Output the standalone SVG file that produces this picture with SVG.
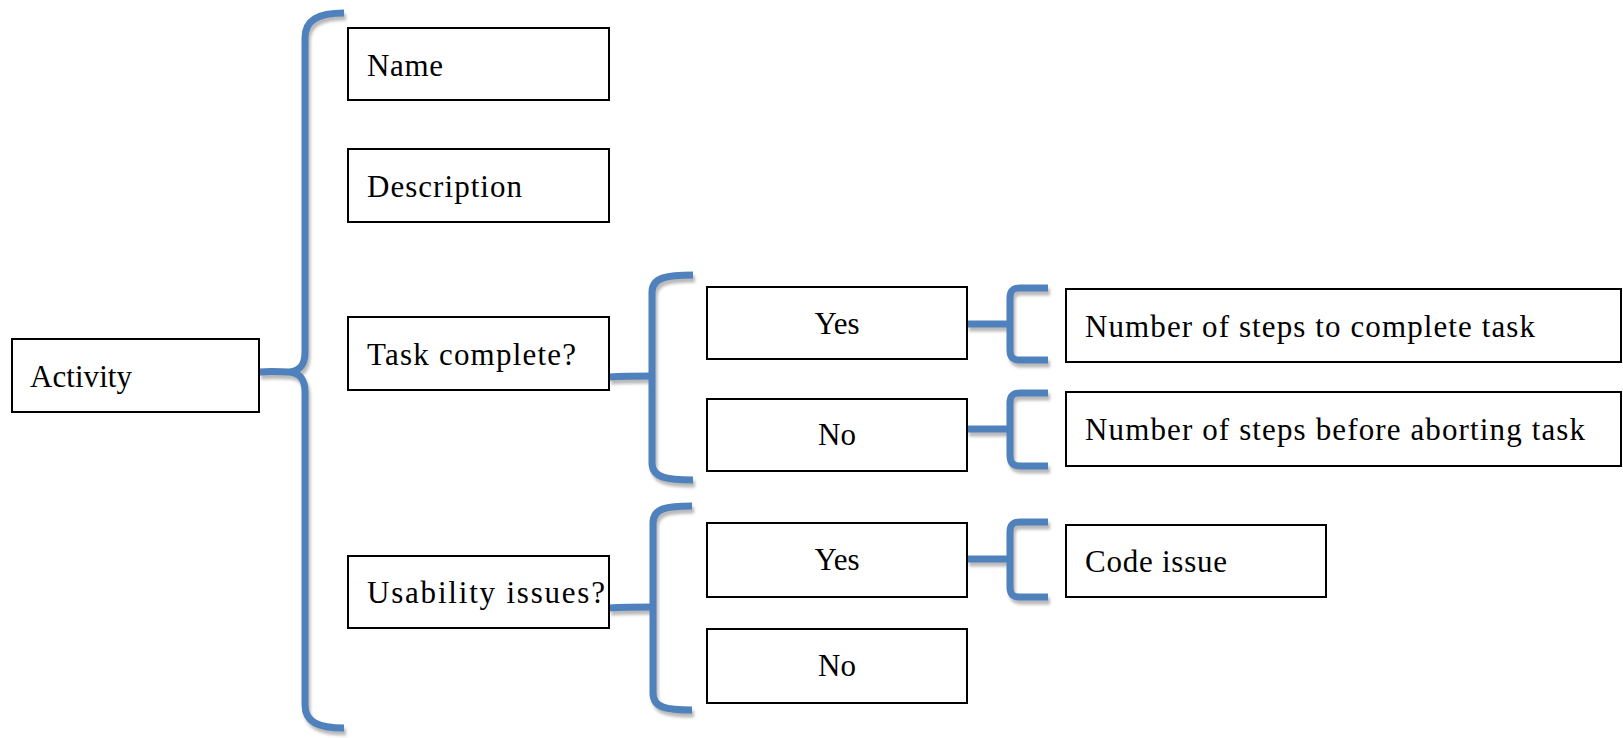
<svg xmlns="http://www.w3.org/2000/svg" width="1623" height="738" viewBox="0 0 1623 738">
<style>
.box{fill:#fff;stroke:#000;stroke-width:2}
.br{fill:none;stroke:#4F81BD;stroke-width:7;stroke-linecap:butt;stroke-linejoin:round}
.t{font-family:"Liberation Serif","Times New Roman",serif;font-size:31px;fill:#000}
.c{text-anchor:middle}
</style>
<defs>
<filter id="sh" filterUnits="userSpaceOnUse" x="0" y="0" width="1623" height="738">
<feDropShadow dx="2" dy="4" stdDeviation="1.5" flood-color="#7f7f7f" flood-opacity="0.55"/>
</filter>
</defs>
<rect width="1623" height="738" fill="#fff"/>
<g id="connectors" filter="url(#sh)">
<path class="br" d="M344,13 C318,13 305,20 305,38 L305,352 C305,365 300,370 291,372 C300,374 305,379 305,392 L305,705 C305,722 318,728 344,728"/>
<path class="br" d="M259,372 C272,371 282,372 292,372"/>
<path class="br" d="M693,275 C668,275 652,277 652,292 L652,463 C652,478 668,480 693,480"/>
<path class="br" d="M609,377 C625,376 640,376 652,376"/>
<path class="br" d="M692,506 C667,506 653,508 653,523 L653,693 C653,708 667,710 692,710"/>
<path class="br" d="M609,608 C625,607 640,607 653,607"/>
<path class="br" d="M1048,288 L1020,288 C1012,288 1010,291 1010,298 L1010,350 C1010,357 1012,360 1020,360 L1048,360"/>
<path class="br" d="M967,324 L1010,324"/>
<path class="br" d="M1048,393 L1020,393 C1012,393 1010,396 1010,403 L1010,455 C1010,462 1012,466 1020,466 L1048,466"/>
<path class="br" d="M967,429 L1010,429"/>
<path class="br" d="M1048,522 L1020,522 C1012,522 1010,525 1010,532 L1010,587 C1010,594 1012,597 1020,597 L1048,597"/>
<path class="br" d="M967,559 L1010,559"/>
</g>
<g id="activity"><rect class="box" x="12" y="339" width="247" height="73"/><text class="t" x="30" y="387" textLength="102">Activity</text></g>
<g id="name"><rect class="box" x="348" y="28" width="261" height="72"/><text class="t" x="367" y="76" textLength="76">Name</text></g>
<g id="description"><rect class="box" x="348" y="149" width="261" height="73"/><text class="t" x="367" y="197" textLength="155">Description</text></g>
<g id="task-complete"><rect class="box" x="348" y="317" width="261" height="73"/><text class="t" x="367" y="365" textLength="209">Task complete?</text></g>
<g id="usability-issues"><rect class="box" x="348" y="556" width="261" height="72"/><text class="t" x="367" y="603" textLength="238">Usability issues?</text></g>
<g id="task-yes"><rect class="box" x="707" y="287" width="260" height="72"/><text class="t c" x="837" y="334">Yes</text></g>
<g id="task-no"><rect class="box" x="707" y="399" width="260" height="72"/><text class="t c" x="837" y="445">No</text></g>
<g id="usability-yes"><rect class="box" x="707" y="523" width="260" height="74"/><text class="t c" x="837" y="570">Yes</text></g>
<g id="usability-no"><rect class="box" x="707" y="629" width="260" height="74"/><text class="t c" x="837" y="676">No</text></g>
<g id="steps-complete"><rect class="box" x="1066" y="289" width="555" height="73"/><text class="t" x="1085" y="337" textLength="450">Number of steps to complete task</text></g>
<g id="steps-abort"><rect class="box" x="1066" y="392" width="555" height="74"/><text class="t" x="1085" y="440" textLength="500">Number of steps before aborting task</text></g>
<g id="code-issue"><rect class="box" x="1066" y="525" width="260" height="72"/><text class="t" x="1085" y="572" textLength="142">Code issue</text></g>
</svg>
